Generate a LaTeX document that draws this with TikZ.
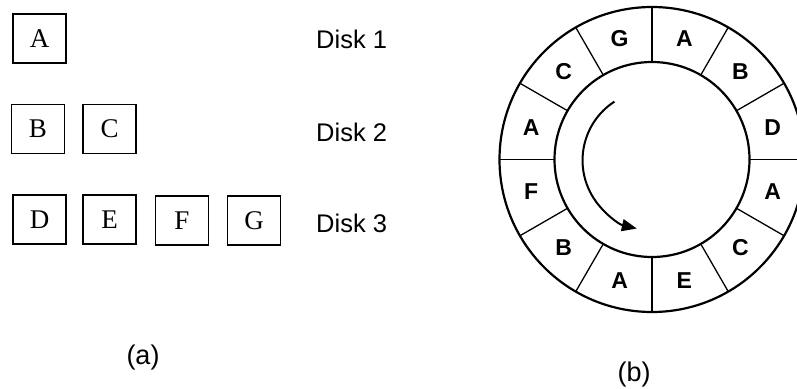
\documentclass[tikz,border=0pt]{standalone}
\usepackage{fontspec}
\setmainfont{Liberation Serif}
\newfontfamily\arialf{Liberation Sans}
\usetikzlibrary{arrows.meta}
\begin{document}
\begin{tikzpicture}[x=1pt,y=-1pt,
  blk/.style={draw, line width=1.6pt, minimum width=53pt, minimum height=49pt, inner sep=0pt, font=\fontsize{27}{32}\selectfont},
  disklbl/.style={anchor=west, font=\arialf\fontsize{25.5}{30}\selectfont, inner sep=0pt},
  captxt/.style={font=\arialf\fontsize{27}{32}\selectfont, inner sep=0pt},
  seg/.style={font=\arialf\bfseries\fontsize{23}{27}\selectfont, inner sep=0pt},
  ring/.style={line width=2.2pt},
  div/.style={line width=1.3pt},
  turn/.style={line width=2pt, -{Triangle[length=15pt,width=12pt]}}
  ]
\useasboundingbox (0,0) rectangle (797,388);
\clip (0,0) rectangle (797,388);
% part (a)
\node[blk] (bA) at (39.5,38.5) {A};
\node[blk] (bB) at (38,129) {B};
\node[blk] (bC) at (109.7,129) {C};
\node[blk] (bD) at (39.7,219.5) {D};
\node[blk] (bE) at (109.7,219.5) {E};
\node[blk] (bF) at (182,220.5) {F};
\node[blk] (bG) at (254,220.5) {G};
\node[disklbl] (d1) at (316,39) {Disk 1};
\node[disklbl] (d2) at (316,132) {Disk 2};
\node[disklbl] (d3) at (316,223) {Disk 3};
\node[captxt] (capa) at (143,358) {(a)};
\node[captxt] (capb) at (634,375) {(b)};
% part (b)
\begin{scope}[shift={(652,159.5)}, y=1pt]
  \coordinate (ctr) at (0,0);
  \draw[ring] (ctr) circle[radius=152.5];
  \draw[ring] (ctr) circle[radius=97.5];
  \foreach \a in {0,30,...,330} {
    \draw[div] (\a:97.5) -- (\a:152.5);
  }
  \foreach \l [count=\i from 0] in {A,B,D,A,C,E,A,B,F,A,C,G} {
    \node[seg] (s\i) at ({75-30*\i}:125) {\l};
  }
  \draw[turn] (123:69) arc[start angle=123, end angle=257, radius=70];
\end{scope}
\end{tikzpicture}
\end{document}
